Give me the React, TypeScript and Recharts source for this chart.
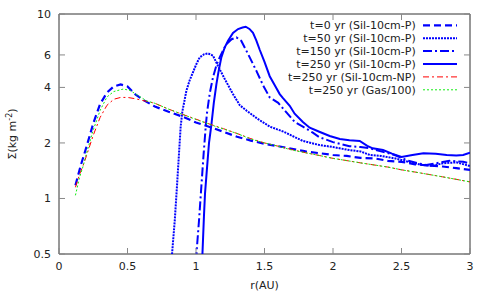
import React from "react"
import { LineChart, Line, XAxis, YAxis, ReferenceArea, Legend } from "recharts"

// radius grids (AU) and surface densities (kg m^-2)
const t0R = [0.12, 0.16, 0.2, 0.25, 0.3, 0.35, 0.4, 0.45, 0.5, 0.56, 0.62, 0.7, 0.8, 0.9, 1.0, 1.1, 1.2, 1.3, 1.4, 1.5, 1.6, 1.7, 1.8, 1.9, 2.0, 2.1, 2.2, 2.3, 2.4, 2.5, 2.6, 2.7, 2.8, 2.9, 3.0]
const t0S = [1.18, 1.52, 1.9, 2.55, 3.25, 3.75, 4.05, 4.15, 4.05, 3.65, 3.4, 3.15, 2.95, 2.78, 2.58, 2.44, 2.3, 2.16, 2.06, 1.98, 1.92, 1.86, 1.8, 1.76, 1.72, 1.7, 1.66, 1.65, 1.6, 1.58, 1.53, 1.51, 1.49, 1.46, 1.43]

const t50R = [0.81, 0.825, 0.845, 0.861, 0.876, 0.888, 0.9, 0.93, 0.955, 0.978, 1.0, 1.027, 1.06, 1.088, 1.124, 1.16, 1.21, 1.27, 1.32, 1.37, 1.45, 1.54, 1.64, 1.78, 1.9, 2.0, 2.12, 2.2, 2.27, 2.35, 2.45, 2.55, 2.65, 2.72, 2.8, 2.9, 3.0]
const t50S = [0.37, 0.5, 0.76, 1.16, 1.76, 2.45, 2.95, 3.84, 4.4, 4.83, 5.3, 5.82, 6.05, 6.12, 5.95, 5.24, 4.44, 3.68, 3.2, 2.99, 2.7, 2.45, 2.3, 2.05, 1.95, 1.9, 1.83, 1.8, 1.72, 1.7, 1.65, 1.58, 1.52, 1.5, 1.55, 1.57, 1.5]

const t150R = [0.99, 1.003, 1.022, 1.039, 1.056, 1.071, 1.08, 1.1, 1.124, 1.15, 1.173, 1.2, 1.222, 1.26, 1.295, 1.33, 1.38, 1.44, 1.49, 1.538, 1.6, 1.66, 1.72, 1.78, 1.85, 1.9, 2.0, 2.12, 2.2, 2.27, 2.35, 2.45, 2.55, 2.62, 2.68, 2.75, 2.85, 2.95, 3.0]
const t150S = [0.37, 0.5, 0.76, 1.16, 1.76, 2.45, 2.9, 3.7, 4.54, 5.3, 5.82, 6.4, 6.87, 7.3, 7.47, 7.16, 6.07, 4.93, 4.1, 3.53, 3.3, 2.93, 2.6, 2.45, 2.28, 2.15, 2.02, 1.92, 1.9, 1.87, 1.8, 1.72, 1.6, 1.55, 1.52, 1.55, 1.6, 1.58, 1.55]

const t250R = [1.035, 1.047, 1.058, 1.066, 1.08, 1.095, 1.112, 1.13, 1.149, 1.165, 1.185, 1.21, 1.234, 1.27, 1.307, 1.34, 1.363, 1.39, 1.416, 1.44, 1.465, 1.5, 1.538, 1.58, 1.611, 1.635, 1.684, 1.72, 1.78, 1.83, 1.9, 1.976, 2.05, 2.12, 2.195, 2.25, 2.29, 2.365, 2.43, 2.5, 2.58, 2.66, 2.75, 2.83, 2.9, 2.95, 3.0]
const t250S = [0.37, 0.5, 0.8, 1.07, 1.45, 2.0, 2.5, 3.3, 4.17, 4.9, 5.82, 6.6, 7.16, 7.9, 8.29, 8.45, 8.53, 8.3, 7.9, 7.2, 6.4, 5.5, 4.6, 4.05, 3.68, 3.5, 3.18, 2.88, 2.6, 2.42, 2.3, 2.18, 2.1, 2.07, 2.05, 1.93, 1.87, 1.83, 1.75, 1.68, 1.72, 1.76, 1.75, 1.72, 1.71, 1.72, 1.77]

const npR = [0.12, 0.15, 0.175, 0.2, 0.25, 0.3, 0.35, 0.4, 0.45, 0.5, 0.56, 0.61, 0.64, 0.7, 0.8, 0.9, 1.0, 1.1, 1.2, 1.3, 1.4, 1.5, 1.6, 1.7, 1.8, 1.9, 2.0, 2.2, 2.4, 2.5, 2.6, 2.8, 3.0]
const npS = [1.15, 1.35, 1.5, 1.7, 2.2, 2.75, 3.2, 3.45, 3.53, 3.53, 3.47, 3.4, 3.36, 3.28, 3.05, 2.86, 2.69, 2.53, 2.39, 2.25, 2.11, 2.0, 1.92, 1.84, 1.77, 1.71, 1.65, 1.56, 1.48, 1.43, 1.39, 1.31, 1.23]

const gasR = [0.12, 0.15, 0.175, 0.2, 0.25, 0.3, 0.35, 0.4, 0.47, 0.52, 0.56, 0.64, 0.7, 0.8, 0.9, 1.0, 1.1, 1.2, 1.3, 1.4, 1.5, 1.6, 1.7, 1.8, 1.9, 2.0, 2.2, 2.4, 2.5, 2.6, 2.8, 3.0]
const gasS = [1.04, 1.3, 1.49, 1.75, 2.35, 3.0, 3.55, 3.8, 3.92, 3.85, 3.68, 3.38, 3.28, 3.05, 2.86, 2.68, 2.52, 2.38, 2.25, 2.1, 2.0, 1.92, 1.83, 1.77, 1.71, 1.65, 1.56, 1.48, 1.43, 1.39, 1.31, 1.23]

const xTicks = [0, 0.5, 1, 1.5, 2, 2.5, 3]
const yTicks = [0.5, 1, 2, 4, 6, 8, 10]

const names = [
  "t=0 yr (Sil-10cm-P)",
  "t=50 yr (Sil-10cm-P)",
  "t=150 yr (Sil-10cm-P)",
  "t=250 yr (Sil-10cm-P)",
  "t=250 yr (Sil-10cm-NP)",
  "t=250 yr (Gas/100)",
]

const zip = (rs: number[], ss: number[]) => rs.map((r, i) => ({ r, s: ss[i] }))

const series = [
  { name: names[0], data: zip(t0R, t0S), color: "#0000ff", width: 2.2, dash: "7 4" },
  { name: names[1], data: zip(t50R, t50S), color: "#0000ff", width: 2, dash: "2 1" },
  { name: names[2], data: zip(t150R, t150S), color: "#0000ff", width: 2, dash: "9 3 2 3" },
  { name: names[3], data: zip(t250R, t250S), color: "#0000ff", width: 2, dash: undefined },
  { name: names[4], data: zip(npR, npS), color: "#ff0000", width: 1, dash: "6 3 2 3" },
  { name: names[5], data: zip(gasR, gasS), color: "#11ee11", width: 1, dash: "2 2" },
]

const W = 491
const H = 294
const MARGIN = { top: 14, right: 21, bottom: 10, left: 9 }
const YW = 50
const XH = 30
const PL = MARGIN.left + YW
const PR = W - MARGIN.right
const PT = MARGIN.top
const PB = H - MARGIN.bottom - XH
const FONT = "DejaVu Sans, sans-serif"
const TICK = 6

const YTick = ({ y, payload }: any) => (
  <g>
    <text x={PL - 8} y={y} dy={4} textAnchor="end" fontSize={11} fontFamily={FONT} fill="#222">
      {payload.value}
    </text>
    <line x1={PL} x2={PL + TICK} y1={y} y2={y} stroke="#888" />
    <line x1={PR - TICK} x2={PR} y1={y} y2={y} stroke="#888" />
  </g>
)

const XTick = ({ x, payload }: any) => (
  <g>
    <text x={x} y={PB + 16} textAnchor="middle" fontSize={11} fontFamily={FONT} fill="#222">
      {payload.value}
    </text>
    <line x1={x} x2={x} y1={PB} y2={PB - TICK} stroke="#888" />
    <line x1={x} x2={x} y1={PT} y2={PT + TICK} stroke="#888" />
  </g>
)

const LegendBox = () => (
  <svg width={230} height={84}>
    {series.map((s, i) => {
      const cy = 8.3 + 12.9 * i
      return (
        <g key={s.name}>
          <text x={175.7} y={cy + 4} textAnchor="end" fontSize={11} fontFamily={FONT} fill="#222">
            {s.name}
          </text>
          <line
            x1={183}
            x2={217}
            y1={cy}
            y2={cy}
            stroke={s.color}
            strokeWidth={s.width}
            strokeDasharray={s.dash}
          />
        </g>
      )
    })}
  </svg>
)

export default function App() {
  return (
    <div style={{ position: "absolute", left: 0, top: 0, width: W, height: H, background: "#fff" }}>
      <LineChart width={W} height={H} margin={MARGIN}>
        <XAxis
          dataKey="r"
          type="number"
          domain={[0, 3]}
          ticks={xTicks}
          allowDataOverflow
          height={XH}
          axisLine={false}
          tickLine={false}
          tick={<XTick />}
          label={{
            content: () => (
              <text x={(PL + PR) / 2} y={H - 5} textAnchor="middle" fontSize={11} fontFamily={FONT} fill="#222">
                r(AU)
              </text>
            ),
          }}
        />
        <YAxis
          type="number"
          scale="log"
          domain={[0.5, 10]}
          ticks={yTicks}
          allowDataOverflow
          width={YW}
          axisLine={false}
          tickLine={false}
          tick={<YTick />}
          label={{
            content: () => (
              <text
                x={13}
                y={(PT + PB) / 2}
                transform={`rotate(-90, 13, ${(PT + PB) / 2})`}
                textAnchor="middle"
                fontSize={11}
                fontFamily={FONT}
                fill="#222"
                dominantBaseline="middle"
              >
                Σ(kg m<tspan dy={-4} fontSize={8}>-2</tspan>
                <tspan dy={4}>)</tspan>
              </text>
            ),
          }}
        />
        <ReferenceArea x1={0} x2={3} y1={0.5} y2={10} fill="none" stroke="#333" strokeWidth={1} ifOverflow="visible" />
        <Legend
          layout="vertical"
          align="center"
          verticalAlign="middle"
          wrapperStyle={{ left: 240, top: 17, width: 230, height: 84 }}
          content={<LegendBox />}
        />
        {series.map((s) => (
          <Line
            key={s.name}
            data={s.data}
            dataKey="s"
            name={s.name}
            type="linear"
            stroke={s.color}
            strokeWidth={s.width}
            strokeDasharray={s.dash}
            dot={false}
            activeDot={false}
            isAnimationActive={false}
          />
        ))}
      </LineChart>
    </div>
  )
}
